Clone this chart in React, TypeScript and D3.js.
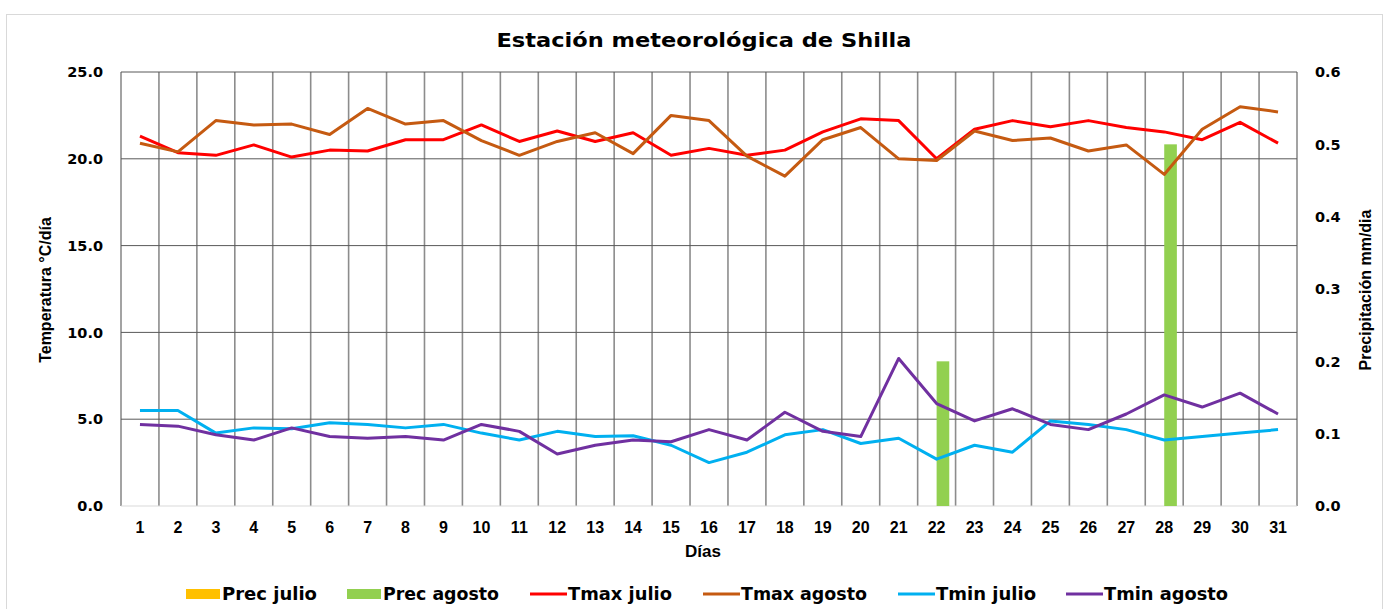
import React from 'react';
import * as d3 from 'd3';

const days = d3.range(1, 32);
const tmaxJulio = [21.3, 20.35, 20.2, 20.8, 20.1, 20.5, 20.45, 21.1, 21.1, 21.95, 21.0, 21.6, 21.0, 21.5, 20.2, 20.6, 20.2, 20.5, 21.55, 22.3, 22.2, 20.0, 21.7, 22.2, 21.85, 22.2, 21.8, 21.55, 21.1, 22.1, 20.9];
const tmaxAgosto = [20.9, 20.4, 22.2, 21.95, 22.0, 21.4, 22.9, 22.0, 22.2, 21.05, 20.2, 21.0, 21.5, 20.3, 22.5, 22.2, 20.15, 19.0, 21.1, 21.8, 20.0, 19.9, 21.6, 21.05, 21.2, 20.45, 20.8, 19.1, 21.7, 23.0, 22.7];
const tminJulio = [5.5, 5.5, 4.2, 4.5, 4.45, 4.8, 4.7, 4.5, 4.7, 4.2, 3.8, 4.3, 4.0, 4.05, 3.5, 2.5, 3.1, 4.1, 4.4, 3.6, 3.9, 2.7, 3.5, 3.1, 4.9, 4.7, 4.4, 3.8, 4.0, 4.2, 4.4];
const tminAgosto = [4.7, 4.6, 4.1, 3.8, 4.5, 4.0, 3.9, 4.0, 3.8, 4.7, 4.3, 3.0, 3.5, 3.8, 3.7, 4.4, 3.8, 5.4, 4.3, 4.0, 8.5, 5.9, 4.9, 5.6, 4.7, 4.4, 5.3, 6.4, 5.7, 6.5, 5.3];
const precJulio = days.map(() => 0);
const precAgosto = [0, 0, 0, 0, 0, 0, 0, 0, 0, 0, 0, 0, 0, 0, 0, 0, 0, 0, 0, 0, 0, 0.2, 0, 0, 0, 0, 0, 0.5, 0, 0, 0];
const tempTicks = [0, 5, 10, 15, 20, 25];
const precTicks = [0, 0.1, 0.2, 0.3, 0.4, 0.5, 0.6];

const lineSeries = [
  { name: 'Tmax julio', values: tmaxJulio, color: '#FF0000' },
  { name: 'Tmax agosto', values: tmaxAgosto, color: '#C55A11' },
  { name: 'Tmin julio', values: tminJulio, color: '#00B0F0' },
  { name: 'Tmin agosto', values: tminAgosto, color: '#7030A0' },
];
const barSeries = [
  { name: 'Prec julio', values: precJulio, color: '#FFC000' },
  { name: 'Prec agosto', values: precAgosto, color: '#92D050' },
];

const legend = [
  { name: 'Prec julio', color: '#FFC000', type: 'bar', x: 186, len: 95 },
  { name: 'Prec agosto', color: '#92D050', type: 'bar', x: 347, len: 116 },
  { name: 'Tmax julio', color: '#FF0000', type: 'line', x: 530, len: 104 },
  { name: 'Tmax agosto', color: '#C55A11', type: 'line', x: 703, len: 126 },
  { name: 'Tmin julio', color: '#00B0F0', type: 'line', x: 898, len: 100 },
  { name: 'Tmin agosto', color: '#7030A0', type: 'line', x: 1066, len: 124 },
];

const left = 121, right = 1297, top = 72, bottom = 506;
const bold = { fontFamily: '"DejaVu Sans", sans-serif', fontWeight: 700 };
const narrow = { fontFamily: '"Liberation Sans Narrow", "Liberation Sans", sans-serif', fontWeight: 700 };

export default function App() {
  const x = d3.scaleBand<number>().domain(days).range([left, right]);
  const xSub = d3.scaleBand<string>().domain(barSeries.map(s => s.name)).range([0, x.bandwidth()]).paddingOuter(0.5);
  const yT = d3.scaleLinear().domain([0, 25]).range([bottom, top]);
  const yP = d3.scaleLinear().domain([0, 0.6]).range([bottom, top]);
  const cx = (d: number) => (x(d) as number) + x.bandwidth() / 2;

  const line = (vals: number[]) =>
    d3.line<number>().x((_, i) => cx(days[i])).y(v => yT(v))(vals) as string;

  return (
    <svg width={1387} height={609} style={{ position: 'absolute', left: 0, top: 0, background: '#fff' }}>
      <rect x={6.5} y={14.5} width={1376} height={620} fill="#fff" stroke="#d9d9d9" />
      <text x={704} y={47} textAnchor="middle" fontSize={20} textLength={415} lengthAdjust="spacingAndGlyphs" style={bold}>
        Estación meteorológica de Shilla
      </text>

      {/* vertical grid at band edges */}
      {[...days.map(d => x(d) as number), right].map((gx, i) => (
        <line key={'v' + i} x1={gx} x2={gx} y1={top} y2={bottom} stroke="#8c8c8c" strokeWidth={1.6} />
      ))}
      {tempTicks.map(t => (
        <line key={'h' + t} x1={left} x2={right} y1={yT(t)} y2={yT(t)}
          stroke={t === 0 ? '#d9d9d9' : '#595959'} strokeWidth={1} />
      ))}

      {barSeries.map(s => s.values.map((v, i) => (
        <rect key={s.name + i} x={(x(days[i]) as number) + (xSub(s.name) as number)} width={xSub.bandwidth()}
          y={yP(v)} height={bottom - yP(v)} fill={s.color} />
      )))}

      {lineSeries.map(s => (
        <path key={s.name} d={line(s.values)} fill="none" stroke={s.color} strokeWidth={3} strokeLinejoin="round" />
      ))}

      {tempTicks.map(t => (
        <text key={'lt' + t} x={103} y={yT(t)} dy="0.36em" textAnchor="end" fontSize={14.5} style={bold}>
          {d3.format('.1f')(t)}
        </text>
      ))}
      {precTicks.map(t => (
        <text key={'rt' + t} x={1315} y={yP(t)} dy="0.36em" fontSize={14.5} style={bold}>
          {d3.format('.1f')(t)}
        </text>
      ))}
      {days.map(d => (
        <text key={'xt' + d} x={cx(d)} y={533} textAnchor="middle" fontSize={16} style={narrow}>{d}</text>
      ))}
      <text x={703} y={557} textAnchor="middle" fontSize={17} style={narrow}>Días</text>

      <text transform="translate(51,290) rotate(-90)" textAnchor="middle" fontSize={16} style={narrow}>
        Temperatura °C/día
      </text>
      <text transform="translate(1371,290) rotate(-90)" textAnchor="middle" fontSize={16} style={narrow}>
        Precipitación mm/dia
      </text>

      {legend.map(l => (
        <g key={l.name}>
          {l.type === 'bar'
            ? <rect x={l.x} y={589} width={34} height={10} fill={l.color} />
            : <line x1={l.x} x2={l.x + 37} y1={594} y2={594} stroke={l.color} strokeWidth={3} />}
          <text x={l.x + (l.type === 'bar' ? 36 : 38)} y={600} fontSize={17} textLength={l.len}
            lengthAdjust="spacingAndGlyphs" style={bold}>{l.name}</text>
        </g>
      ))}
    </svg>
  );
}
